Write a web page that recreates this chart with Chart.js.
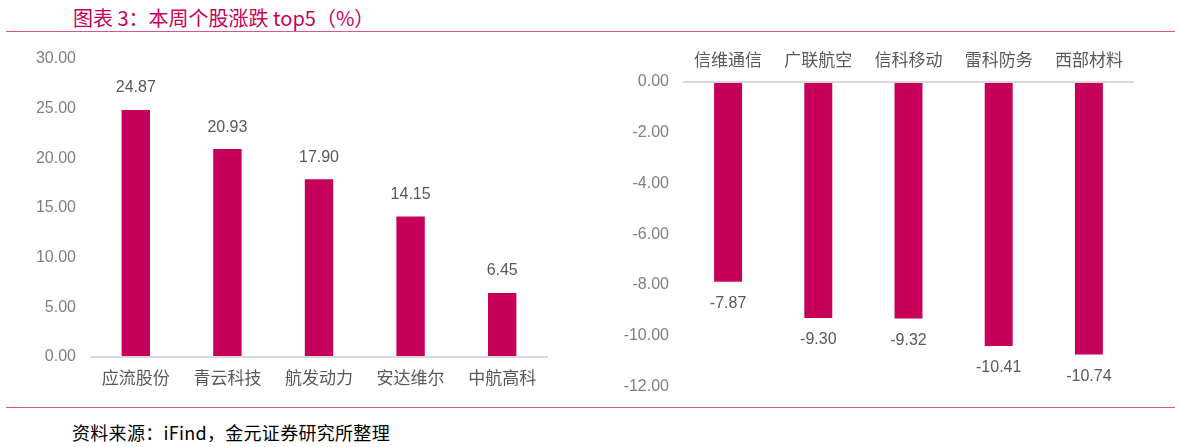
<!DOCTYPE html>
<html>
<head>
<meta charset="utf-8">
<script src="https://cdn.jsdelivr.net/npm/chart.js@4.4.1/dist/chart.umd.min.js"></script>
<style>
  body { margin: 0; background: #fff; width: 1182px; height: 447px; position: relative; overflow: hidden; font-family: 'Noto Sans CJK SC', sans-serif; }
  .title { position: absolute; left: 73px; top: 3px; font-size: 20px; color: #C7005B; white-space: nowrap; }
  .rule { position: absolute; left: 6px; width: 1169px; height: 1px; background: #D6578F; }
  .source { position: absolute; left: 72px; top: 419px; font-size: 18px; color: #000; white-space: nowrap; letter-spacing: 0.3px; }
  .box { position: absolute; top: 35px; }
</style>
</head>
<body>
<div class="title">图表 3：本周个股涨跌 top5（%）</div>
<div class="rule" style="top:31px"></div>
<div class="box" style="left:0;width:580px;height:370px"><canvas id="upChart"></canvas></div>
<div class="box" style="left:580px;width:602px;height:375px"><canvas id="downChart"></canvas></div>
<div class="rule" style="top:407px"></div>
<div class="source">资料来源：iFind，金元证券研究所整理</div>

<script>
// top5 gainers
const upNames = ['应流股份', '青云科技', '航发动力', '安达维尔', '中航高科'];
const upValues = [24.87, 20.93, 17.90, 14.15, 6.45];
const upTicks = [0, 5, 10, 15, 20, 25, 30];

// top5 losers
const downNames = ['信维通信', '广联航空', '信科移动', '雷科防务', '西部材料'];
const downValues = [-7.87, -9.30, -9.32, -10.41, -10.74];
const downTicks = [-12, -10, -8, -6, -4, -2, 0];

const barColor = '#C6005A';
const numFont = "'Liberation Sans', sans-serif";
const cjkFont = "'Noto Sans CJK SC', sans-serif";

// draws value above/below each bar
const valueLabels = {
    id: 'valueLabels',
    afterDatasetsDraw(chart) {
        const ctx = chart.ctx;
        const meta = chart.getDatasetMeta(0);
        const data = chart.data.datasets[0].data;
        ctx.save();
        ctx.font = '16px ' + numFont;
        ctx.fillStyle = '#595959';
        ctx.textAlign = 'center';
        ctx.textBaseline = 'middle';
        meta.data.forEach((bar, i) => {
            const v = data[i];
            const y = v >= 0 ? bar.y - 22 : bar.y + 22;
            ctx.fillText(v.toFixed(2), bar.x, y);
        });
        ctx.restore();
    }
};

function makeChart(id, names, values, ticks, xPos, pad, yWidth, xHeight, xPad) {
    return new Chart(document.getElementById(id), {
        type: 'bar',
        data: {
            labels: names,
            datasets: [{
                data: values,
                backgroundColor: barColor,
                barPercentage: 0.31,
                categoryPercentage: 1
            }]
        },
        options: {
            responsive: true,
            maintainAspectRatio: false,
            animation: false,
            layout: { padding: pad },
            plugins: { legend: { display: false }, tooltip: { enabled: false } },
            scales: {
                x: {
                    position: xPos,
                    grid: { display: false, drawTicks: false },
                    border: { display: false },
                    ticks: { color: '#595959', font: { family: cjkFont, size: 17 }, padding: xPad, maxRotation: 0 },
                    afterFit: (s) => { s.height = xHeight; }
                },
                y: {
                    min: ticks[0],
                    max: ticks[ticks.length - 1],
                    afterBuildTicks: (s) => { s.ticks = ticks.map(v => ({ value: v })); },
                    grid: {
                        drawTicks: false,
                        color: (c) => c.tick && c.tick.value === 0 ? '#D9D9D9' : 'rgba(0,0,0,0)',
                        lineWidth: 2
                    },
                    border: { display: false },
                    ticks: {
                        color: '#7F7F7F',
                        font: { family: numFont, size: 16 },
                        padding: 14,
                        callback: (v) => Number(v).toFixed(2)
                    },
                    afterFit: (s) => { s.width = yWidth; }
                }
            }
        },
        plugins: [valueLabels]
    });
}

makeChart('upChart', upNames, upValues, upTicks, 'bottom',
    { top: 24, right: 32, bottom: 8, left: 0 }, 90, 40, 10);
makeChart('downChart', downNames, downValues, downTicks, 'top',
    { top: 11, right: 48, bottom: 0, left: 0 }, 103, 36, 12);
</script>
</body>
</html>
